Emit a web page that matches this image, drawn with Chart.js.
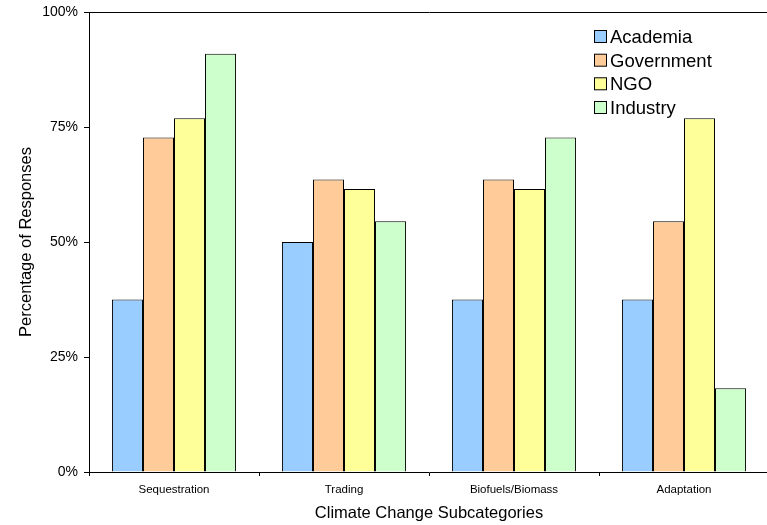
<!DOCTYPE html>
<html>
<head>
<meta charset="utf-8">
<script src="https://cdn.jsdelivr.net/npm/chart.js@4/dist/chart.umd.min.js"></script>
<style>
  html, body { margin: 0; padding: 0; background: #fff; overflow: hidden; }
  #wrap { width: 770px; height: 525px; }
</style>
</head>
<body>
<div id="wrap"><canvas id="c" width="770" height="525"></canvas></div>
<script>
const categories = ["Sequestration", "Trading", "Biofuels/Biomass", "Adaptation"];
const seriesNames = ["Academia", "Government", "NGO", "Industry"];
const academia   = [37.5, 50.0, 37.5, 37.5];
const government = [72.7, 63.6, 63.6, 54.5];
const ngo        = [76.9, 61.5, 61.5, 76.9];
const industry   = [90.9, 54.5, 72.7, 18.2];
const yTicks = [0, 25, 50, 75, 100];
const colors = ["#99CCFF", "#FFCC99", "#FFFF99", "#CCFFCC"];

const FONT = '"Liberation Sans", Arial, sans-serif';
const seriesValues = [academia, government, ngo, industry];

const legendPlugin = {
  id: 'customLegend',
  afterDraw(chart) {
    const ctx = chart.ctx;
    ctx.save();
    ctx.font = '18.5px ' + FONT;
    ctx.textBaseline = 'middle';
    ctx.textAlign = 'left';
    const rows = [37, 60.7, 84.3, 108];
    chart.data.datasets.forEach((ds, i) => {
      const y = rows[i];
      ctx.fillStyle = ds.backgroundColor;
      ctx.fillRect(594.5, y - 6.5, 12, 12);
      ctx.strokeStyle = '#000';
      ctx.lineWidth = 1;
      ctx.strokeRect(594.5, y - 6.5, 12, 12);
      ctx.fillStyle = '#000';
      ctx.fillText(ds.label, 610, y + 1);
    });
    ctx.restore();
  }
};

new Chart(document.getElementById('c'), {
  type: 'bar',
  data: {
    labels: categories,
    datasets: seriesNames.map((name, i) => ({
      label: name,
      data: seriesValues[i],
      backgroundColor: colors[i],
      borderColor: '#000',
      borderWidth: 1,
      categoryPercentage: 0.73,
      barPercentage: 1.0
    }))
  },
  options: {
    responsive: false,
    animation: false,
    devicePixelRatio: 1,
    layout: { padding: { top: 12, right: 1, left: 0, bottom: 0 } },
    plugins: { legend: { display: false }, tooltip: { enabled: false } },
    scales: {
      x: {
        afterFit(scale) { scale.height = 53; },
        grid: { display: true, drawOnChartArea: false, offset: true, tickLength: 4, tickColor: '#000', tickWidth: 1 },
        border: { display: true, color: '#000', width: 1 },
        ticks: { color: '#000', font: { family: FONT, size: 11.5 }, padding: 7, maxRotation: 0 },
        title: { display: true, text: 'Climate Change Subcategories', color: '#000',
                 font: { family: FONT, size: 16.5 }, padding: { top: 0, bottom: 2 } }
      },
      y: {
        min: 0, max: 100,
        afterFit(scale) { scale.width = 89; scale.paddingTop = 0; scale.paddingBottom = 0; },
        afterBuildTicks(scale) { scale.ticks = yTicks.map(v => ({ value: v })); },
        grid: {
          display: true, drawOnChartArea: true, tickLength: 5, tickColor: '#000',
          color: c => (c.tick && c.tick.value === 100) ? '#000' : 'rgba(0,0,0,0)'
        },
        border: { display: true, color: '#000', width: 1 },
        ticks: { color: '#000', font: { family: FONT, size: 14 }, padding: 6, callback: v => v + '%' },
        title: { display: true, text: 'Percentage of Responses', color: '#000',
                 font: { family: FONT, size: 16.5 }, padding: { top: 17, bottom: 0 } }
      }
    }
  },
  plugins: [legendPlugin]
});
</script>
</body>
</html>
